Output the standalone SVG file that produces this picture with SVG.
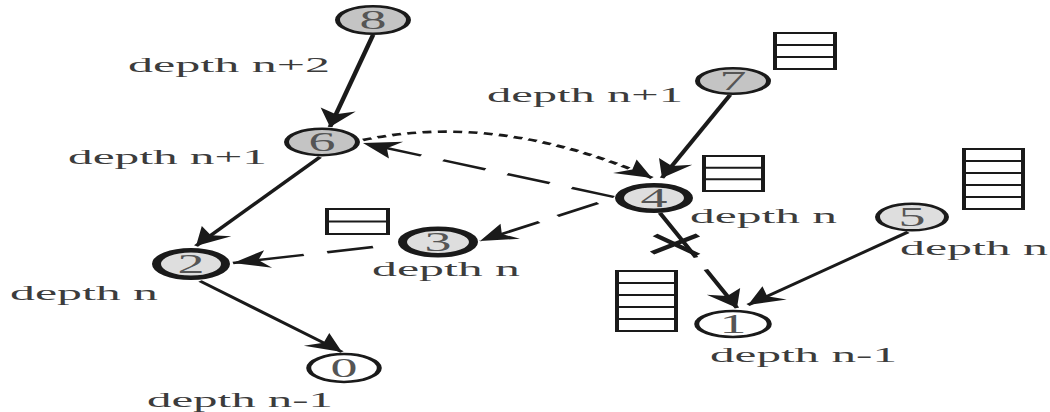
<svg xmlns="http://www.w3.org/2000/svg" width="1050" height="412" viewBox="0 0 1050 412">
<style>
.lbl{font-family:"Liberation Serif","Times New Roman",serif;font-size:22px;fill:#3c3c3c}
.num{font-family:"Liberation Serif","Times New Roman",serif;font-size:28px;fill:#555;text-anchor:middle}
.nd{stroke:#1a1a1a;stroke-width:2.5}
.thick{stroke-width:4.5}
.gray{fill:#c4c4c4}
.light{fill:#dedede}
.white{fill:#ffffff}
.box{fill:#fff;stroke:#1a1a1a;stroke-width:2}
.cell{stroke:#1a1a1a;stroke-width:2}
.edge{fill:none;stroke:#1a1a1a;stroke-width:2.4;marker-end:url(#ah)}
.ldash{stroke-dasharray:23 12}
.dot{stroke-dasharray:4.5 3.2;stroke-width:2.6}
.cross{stroke:#1a1a1a;stroke-width:3.5;fill:none}
</style>
<defs>
<marker id="ah" markerUnits="userSpaceOnUse" markerWidth="19" markerHeight="18" refX="18" refY="9" orient="auto" overflow="visible">
<path d="M0,0 L18,9 L0,18 L5,9 Z" fill="#1a1a1a"/>
</marker>
</defs>
<rect width="1050" height="412" fill="#fff"/>
<g transform="scale(2,1)">
<g id="connectors">
<path class="edge" d="M186.5,35 L165,127"/>
<path class="edge" d="M160,157 L98,246"/>
<path class="edge" d="M100,281 L171,352"/>
<path class="edge" d="M365,95 L331,178"/>
<path class="edge" d="M454,232 L374,305"/>
<path class="edge ldash" d="M307,197 L181.5,143"/>
<path class="edge" style="stroke-dasharray:24 11" d="M299,203 L240,241"/>
<path class="edge" style="stroke-dasharray:23.5 12 60" d="M186.5,247 L116.5,263"/>
<path class="edge" style="stroke-dasharray:48 13 100" d="M330,213 L368.5,308"/>
<path class="edge dot" d="M181.5,140 Q250,112 326,178"/>
<path class="cross" d="M326,253 L349,235 M327.5,235 L349,255"/>
</g>
<g id="node8">
<ellipse class="nd gray" cx="186.5" cy="20" rx="17.75" ry="13.75"/>
<text class="num" x="186.5" y="29.5" textLength="13.5" lengthAdjust="spacingAndGlyphs">8</text>
<text class="lbl" x="64" y="72" textLength="101" lengthAdjust="spacingAndGlyphs">depth n+2</text>
</g>
<g id="node6">
<ellipse class="nd gray" cx="161" cy="142" rx="17.75" ry="13.25"/>
<text class="num" x="161" y="151.5" textLength="13.5" lengthAdjust="spacingAndGlyphs">6</text>
<text class="lbl" x="34" y="164" textLength="99.5" lengthAdjust="spacingAndGlyphs">depth n+1</text>
</g>
<g id="node7">
<ellipse class="nd gray" cx="366.5" cy="81" rx="17.75" ry="12.75"/>
<text class="num" x="366.5" y="90.5" textLength="13.5" lengthAdjust="spacingAndGlyphs">7</text>
<text class="lbl" x="243.5" y="102" textLength="98" lengthAdjust="spacingAndGlyphs">depth n+1</text>
<rect class="box" x="387.5" y="33" width="30" height="36"/>
<path class="cell" d="M387.5,45 H417.5 M387.5,57 H417.5"/>
</g>
<g id="node4">
<ellipse class="nd thick light" cx="327" cy="198" rx="17.25" ry="12.75"/>
<text class="num" x="327" y="207.5" textLength="13.5" lengthAdjust="spacingAndGlyphs">4</text>
<text class="lbl" x="345" y="223" textLength="73.5" lengthAdjust="spacingAndGlyphs">depth n</text>
<rect class="box" x="352" y="156" width="29.5" height="35"/>
<path class="cell" d="M352,167.7 H381.5 M352,179.3 H381.5"/>
</g>
<g id="node5">
<ellipse class="nd light" cx="456" cy="217" rx="17.25" ry="13.25"/>
<text class="num" x="456" y="226.5" textLength="13.5" lengthAdjust="spacingAndGlyphs">5</text>
<text class="lbl" x="450" y="255" textLength="74" lengthAdjust="spacingAndGlyphs">depth n</text>
<rect class="box" x="482" y="149" width="29.5" height="60"/>
<path class="cell" d="M482,161 H511.5 M482,173 H511.5 M482,185 H511.5 M482,197 H511.5"/>
</g>
<g id="node3">
<ellipse class="nd thick light" cx="219" cy="242" rx="17.75" ry="13.25"/>
<text class="num" x="219" y="251.5" textLength="13.5" lengthAdjust="spacingAndGlyphs">3</text>
<text class="lbl" x="186" y="276" textLength="74" lengthAdjust="spacingAndGlyphs">depth n</text>
<rect class="box" x="163.5" y="209" width="30.5" height="25"/>
<path class="cell" d="M163.5,221.5 H194"/>
</g>
<g id="node2">
<ellipse class="nd thick light" cx="95.5" cy="264" rx="17.25" ry="13.75"/>
<text class="num" x="95.5" y="273.5" textLength="13.5" lengthAdjust="spacingAndGlyphs">2</text>
<text class="lbl" x="5" y="300" textLength="74" lengthAdjust="spacingAndGlyphs">depth n</text>
</g>
<g id="node0">
<ellipse class="nd white" cx="172" cy="368" rx="17.65" ry="13.9"/>
<text class="num" x="172" y="377.5" textLength="13.5" lengthAdjust="spacingAndGlyphs">0</text>
<text class="lbl" x="73.5" y="407" textLength="93" lengthAdjust="spacingAndGlyphs">depth n-1</text>
</g>
<g id="node1">
<ellipse class="nd white" cx="366.5" cy="324" rx="18.15" ry="12.9"/>
<text class="num" x="366.5" y="333.5" textLength="13.5" lengthAdjust="spacingAndGlyphs">1</text>
<text class="lbl" x="355" y="362" textLength="93.5" lengthAdjust="spacingAndGlyphs">depth n-1</text>
<rect class="box" x="308.5" y="271" width="29.5" height="60"/>
<path class="cell" d="M308.5,283 H338 M308.5,295 H338 M308.5,307 H338 M308.5,319 H338"/>
</g>
</g>
</svg>
